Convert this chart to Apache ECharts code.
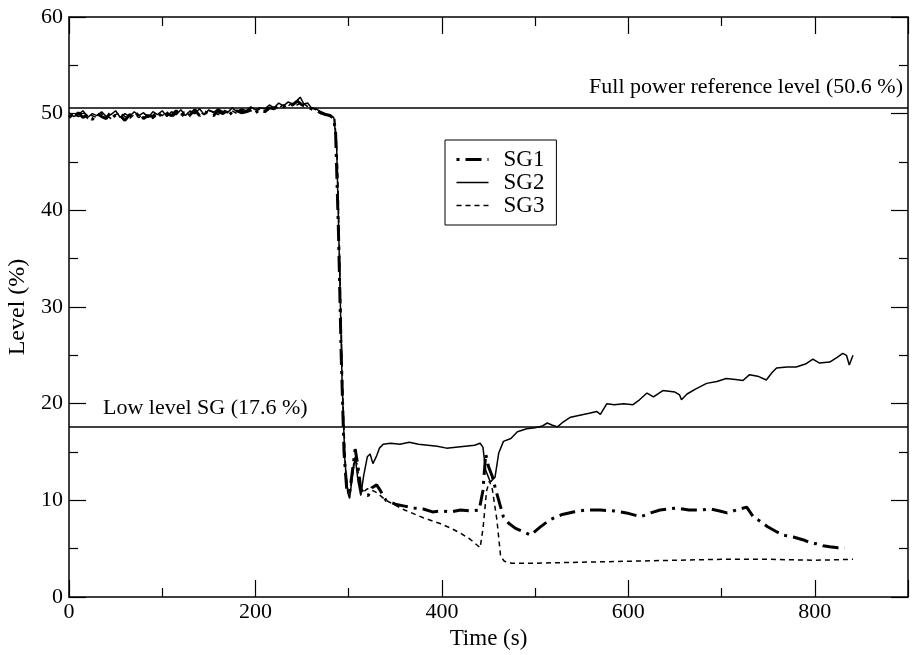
<!DOCTYPE html>
<html>
<head>
<meta charset="utf-8">
<script src="https://cdn.jsdelivr.net/npm/echarts@6/dist/echarts.min.js"></script>
<style>
  html, body { margin: 0; padding: 0; background: #fff; }
  #chart { width: 915px; height: 655px; }
</style>
</head>
<body>
<div id="chart"></div>
<script>
// steam generator levels, [time (s), level (%)]
const sg1 = [
  [0, 49.8], [5, 49.5], [10, 50.1], [15, 49.6], [20, 49.9], [25, 49.4], [30, 50.0], [35, 49.7],
  [40, 49.5], [45, 50.2], [50, 49.6], [55, 49.8], [60, 49.3], [65, 49.9], [70, 49.6], [75, 50.1],
  [80, 49.5], [85, 49.8], [90, 49.7], [95, 50.2], [100, 49.6], [105, 50.0], [110, 49.8], [115, 50.3],
  [120, 49.7], [125, 50.1], [130, 49.9], [135, 50.4], [140, 49.8], [145, 50.2], [150, 50.0], [155, 49.8],
  [160, 50.3], [165, 50.0], [170, 50.4], [175, 49.9], [180, 50.3], [185, 50.1], [190, 50.2], [195, 50.5],
  [200, 50.1], [205, 50.4], [210, 50.2], [215, 50.6], [220, 50.5], [225, 50.8], [230, 50.7], [235, 51.0],
  [240, 50.9], [245, 51.3], [250, 50.9], [255, 50.7], [260, 50.5], [265, 50.3], [270, 50.1], [275, 49.9],
  [280, 49.8], [284, 49.5], [286, 48], [289, 38], [292, 25], [295, 15], [298, 11], [301, 10.8],
  [304, 13], [307, 15.3], [310, 13.5], [313, 11.2], [317, 10.6], [321, 10.5], [325, 11.3], [330, 11.6],
  [334, 11.0], [340, 10.0], [350, 9.6], [360, 9.4], [370, 9.2], [380, 9.1], [390, 8.8], [400, 8.9],
  [410, 8.8], [420, 9.0], [430, 8.9], [440, 9.0], [444, 11], [447, 14.8], [450, 13.5], [454, 12.5],
  [458, 11], [461, 10], [466, 8.3], [472, 7.6], [479, 7.1], [486, 6.8], [495, 6.4], [505, 7.2],
  [516, 8.0], [528, 8.5], [541, 8.8], [555, 9.0], [570, 9.0], [585, 8.9], [598, 8.7], [613, 8.3],
  [624, 8.7], [634, 9.0], [652, 9.2], [665, 9.0], [677, 9.0], [688, 9.1], [698, 8.9], [706, 8.7],
  [716, 9.0], [727, 9.3], [734, 8.3], [742, 7.8], [749, 7.3], [758, 6.8], [766, 6.4], [777, 6.2],
  [788, 5.9], [795, 5.6], [802, 5.5], [809, 5.3], [816, 5.2], [825, 5.1], [832, 5.1]
];
const sg2 = [
  [0, 50.1], [5, 49.7], [10, 49.9], [15, 50.3], [20, 49.6], [25, 50.0], [30, 49.8], [35, 50.2],
  [40, 49.7], [45, 49.9], [50, 50.3], [55, 49.6], [60, 50.0], [65, 49.7], [70, 50.2], [75, 49.8],
  [80, 50.1], [85, 49.6], [90, 50.2], [95, 49.9], [100, 50.3], [105, 49.7], [110, 50.2], [115, 49.9],
  [120, 50.4], [125, 49.8], [130, 50.3], [135, 50.0], [140, 50.5], [145, 49.9], [150, 50.4], [155, 50.1],
  [160, 50.5], [165, 50.2], [170, 50.1], [175, 50.6], [180, 50.2], [185, 50.5], [190, 50.3], [195, 50.7],
  [200, 50.4], [205, 50.6], [210, 50.5], [215, 50.9], [220, 50.6], [225, 51.1], [230, 50.8], [235, 51.2],
  [240, 51.0], [245, 51.4], [248, 51.7], [252, 51.0], [256, 51.1], [260, 50.6], [265, 50.5], [270, 50.2],
  [275, 50.0], [280, 49.9], [284, 49.6], [287, 47], [290, 35], [293, 22], [296, 14], [299, 10.8],
  [301, 10.2], [304, 12.5], [307, 14.5], [310, 12.0], [313, 10.5], [316, 12.5], [320, 14.5], [323, 14.8],
  [326, 13.8], [330, 14.6], [333, 15.4], [337, 15.8], [345, 15.9], [355, 15.8], [365, 16.0], [375, 15.8],
  [385, 15.7], [395, 15.6], [405, 15.4], [415, 15.5], [425, 15.6], [435, 15.7], [441, 15.9], [444, 15.5],
  [447, 13.1], [452, 11.9], [457, 12.4], [461, 14.9], [466, 16.1], [474, 16.4], [481, 17.1], [491, 17.4],
  [500, 17.5], [508, 17.7], [513, 18.0], [518, 17.8], [524, 17.6], [530, 18.1], [538, 18.6], [548, 18.8],
  [558, 19.0], [566, 19.2], [570, 18.9], [577, 20.0], [585, 19.9], [595, 20.0], [605, 19.9], [612, 20.4],
  [620, 21.1], [627, 20.7], [637, 21.35], [650, 21.2], [655, 20.9], [657, 20.4], [663, 21.0], [672, 21.5],
  [684, 22.1], [695, 22.3], [705, 22.6], [715, 22.5], [723, 22.4], [730, 23.0], [740, 22.8], [748, 22.45],
  [754, 23.2], [759, 23.7], [770, 23.8], [780, 23.8], [790, 24.1], [798, 24.6], [805, 24.2], [816, 24.3],
  [824, 24.8], [830, 25.2], [834, 25.0], [837, 24.0], [841, 25.0]
];
const sg3 = [
  [0, 49.6], [5, 50.0], [10, 49.7], [15, 49.9], [20, 49.5], [25, 49.8], [30, 49.6], [35, 50.0],
  [40, 49.8], [45, 49.5], [50, 49.9], [55, 50.1], [60, 49.7], [65, 49.5], [70, 49.9], [75, 49.6],
  [80, 50.0], [85, 49.8], [90, 49.5], [95, 49.9], [100, 49.8], [105, 50.2], [110, 49.6], [115, 50.0],
  [120, 49.9], [125, 50.3], [130, 49.7], [135, 50.1], [140, 50.2], [145, 49.9], [150, 50.3], [155, 50.2],
  [160, 49.9], [165, 50.4], [170, 50.2], [175, 50.3], [180, 50.0], [185, 50.4], [190, 50.1], [195, 50.3],
  [200, 50.2], [205, 50.5], [210, 50.3], [215, 50.4], [220, 50.7], [225, 50.6], [230, 50.9], [235, 50.8],
  [240, 51.1], [245, 50.9], [250, 51.2], [255, 50.8], [260, 50.6], [265, 50.4], [270, 50.0], [275, 50.0],
  [280, 49.7], [285, 49.6], [288, 45], [291, 32], [294, 20], [297, 12.5], [300, 10.5], [303, 12],
  [306, 14.2], [309, 13.8], [312, 11.5], [315, 10.8], [320, 11.2], [326, 11.0], [330, 10.8], [340, 10.0],
  [360, 9.0], [380, 8.2], [398, 7.6], [410, 7.1], [420, 6.6], [430, 6.0], [441, 5.1], [444, 7],
  [448, 11], [451, 12.0], [454, 11.2], [459, 8.0], [463, 4.2], [467, 3.7], [475, 3.5], [500, 3.5],
  [550, 3.6], [600, 3.7], [650, 3.8], [700, 3.9], [750, 3.9], [800, 3.8], [841, 3.9]
];
const fullPowerLevel = 50.6;
const lowLevel = 17.6;

const font = "Liberation Serif";
const ink = "#000";

const chart = echarts.init(document.getElementById("chart"));

const tickStyle = {
  axisLine: { show: true, onZero: false, lineStyle: { color: ink, width: 1.5 } },
  axisTick: { show: true, inside: true, length: 17, lineStyle: { color: ink, width: 1.2 } },
  minorTick: { show: true, splitNumber: 2, length: 9, lineStyle: { color: ink, width: 1.2 } },
  splitLine: { show: false },
};

// top / right copies of the axes, ticks only
function frameAxis(pos, min, max, interval) {
  return {
    type: "value",
    position: pos,
    min: min,
    max: max,
    interval: interval,
    ...tickStyle,
    axisLabel: { show: false },
  };
}

const option = {
  animation: false,
  backgroundColor: "#fff",
  textStyle: { fontFamily: font, color: ink },
  grid: { left: 69, right: 7, top: 17, bottom: 58, outerBoundsMode: "none" },
  legend: {
    orient: "vertical",
    left: 445,
    top: 140,
    itemWidth: 32,
    itemHeight: 14,
    itemGap: 0,
    padding: [8, 12, 8, 10],
    borderColor: ink,
    borderWidth: 1,
    itemStyle: { opacity: 0 },
    textStyle: { fontFamily: font, fontSize: 23, lineHeight: 22, color: ink, padding: [0, 0, 0, 10] },
    data: [
      { name: "SG1", lineStyle: { width: 3 } },
      { name: "SG2", lineStyle: { width: 1.5 } },
      { name: "SG3", lineStyle: { width: 1.5 } },
    ],
  },
  xAxis: [
    {
      type: "value",
      min: 0,
      max: 900,
      interval: 200,
      name: "Time (s)",
      nameLocation: "middle",
      nameGap: 21,
      nameTextStyle: { fontFamily: font, fontSize: 23, color: ink },
      ...tickStyle,
      axisLabel: {
        fontFamily: font, fontSize: 22, color: ink, margin: 4,
        formatter: (v) => (v % 200 === 0 ? v : ""),
      },
    },
    frameAxis("top", 0, 900, 200),
  ],
  yAxis: [
    {
      type: "value",
      min: 0,
      max: 60,
      interval: 10,
      name: "Level (%)",
      nameLocation: "middle",
      nameGap: 39,
      nameTextStyle: { fontFamily: font, fontSize: 24, color: ink },
      ...tickStyle,
      axisLabel: { fontFamily: font, fontSize: 22, color: ink, margin: 6 },
    },
    frameAxis("right", 0, 60, 10),
  ],
  series: [
    {
      name: "SG1",
      type: "line",
      data: sg1,
      symbol: "none",
      color: ink,
      lineStyle: { color: ink, width: 3, type: [3, 6, 16, 6] },
      markLine: {
        silent: true,
        symbol: "none",
        lineStyle: { color: ink, width: 1.5, type: "solid" },
        data: [
          {
            yAxis: fullPowerLevel,
            label: {
              position: "insideEndTop",
              distance: [5, 10],
              formatter: "Full power reference level (50.6 %)",
              fontFamily: font, fontSize: 22, color: ink,
            },
          },
          {
            yAxis: lowLevel,
            label: {
              position: "insideStartTop",
              distance: [34, 8],
              formatter: "Low level SG (17.6 %)",
              fontFamily: font, fontSize: 22, color: ink,
            },
          },
        ],
      },
    },
    {
      name: "SG2",
      type: "line",
      data: sg2,
      symbol: "none",
      color: ink,
      lineStyle: { color: ink, width: 1.5 },
    },
    {
      name: "SG3",
      type: "line",
      data: sg3,
      symbol: "none",
      color: ink,
      lineStyle: { color: ink, width: 1.5, type: [5, 4] },
    },
  ],
};

chart.setOption(option);
</script>
</body>
</html>
